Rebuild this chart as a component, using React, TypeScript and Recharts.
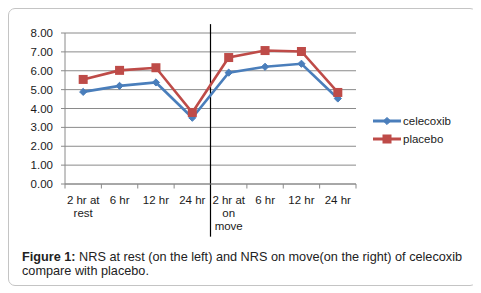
import React from 'react';
import { LineChart, Line, XAxis, YAxis, CartesianGrid, ReferenceLine, Legend } from 'recharts';

const categories = ['2 hr at\nrest', '6 hr', '12 hr', '24 hr', '2 hr at\non\nmove', '6 hr', '12 hr', '24 hr'];
const celecoxib = [4.88, 5.2, 5.38, 3.51, 5.9, 6.21, 6.37, 4.53];
const placebo = [5.54, 6.02, 6.16, 3.79, 6.7, 7.07, 7.02, 4.85];
const yTicks = [0, 1, 2, 3, 4, 5, 6, 7, 8];

const BLUE = '#4A7EBB';
const RED = '#BE4B48';
const GRID = '#8a8a8a';
const FONT = '"Liberation Sans", Arial, sans-serif';

const data = categories.map((c, i) => ({ x: i + 0.5, label: c, celecoxib: celecoxib[i], placebo: placebo[i] }));
const xTicks = data.map((d) => d.x);
const boundaries = categories.map((_, i) => i).concat([categories.length]);

const Diamond = (p: any) => {
  const { cx, cy } = p;
  if (cx == null || cy == null) return null;
  const r = 3.6;
  return <polygon points={`${cx},${cy - r} ${cx + r},${cy} ${cx},${cy + r} ${cx - r},${cy}`} fill={BLUE} stroke={BLUE} strokeWidth={1} />;
};

const Square = (p: any) => {
  const { cx, cy } = p;
  if (cx == null || cy == null) return null;
  const s = 4.5;
  return <rect x={cx - s} y={cy - s} width={2 * s} height={2 * s} fill={RED} />;
};

const XTick = (props: any) => {
  const { x, y, payload } = props;
  const idx = Math.round(payload.value - 0.5);
  const lines = (categories[idx] || '').split('\n');
  return (
    <text x={x} y={y} textAnchor="middle" fontSize={11.5} fontFamily={FONT} fill="#1a1a1a">
      {lines.map((l, i) => (
        <tspan key={i} x={x} dy={i === 0 ? 12 : 13}>
          {l}
        </tspan>
      ))}
    </text>
  );
};

const LegendContent = (props: any) => {
  const { payload } = props;
  return (
    <div style={{ fontFamily: FONT, fontSize: 11.5, color: '#1a1a1a', width: 100 }}>
      {(payload || []).map((item: any, i: number) => (
        <div key={i} style={{ display: 'flex', alignItems: 'center', height: 18.3 }}>
          <svg width={29} height={12} style={{ display: 'block' }}>
            <line x1={0} y1={6} x2={28} y2={6} stroke={item.color} strokeWidth={3} />
            {item.dataKey === 'celecoxib' ? <Diamond cx={14} cy={6} /> : <Square cx={14} cy={6} />}
          </svg>
          <span style={{ marginLeft: 1 }}>{item.value}</span>
        </div>
      ))}
    </div>
  );
};

export default function App() {
  return (
    <div style={{ position: 'relative', width: 469, height: 278 }}>
      <div
        style={{
          position: 'absolute',
          left: 0,
          top: 0,
          width: 469,
          height: 278,
          border: '1px solid #c4c4c4',
          borderRadius: 7,
          boxSizing: 'border-box',
        }}
      />
      <div style={{ position: 'absolute', left: 0, top: 0 }}>
        <LineChart width={469} height={240} data={data} margin={{ top: 25, right: 21, bottom: 14, left: 0 }}>
          <CartesianGrid horizontal vertical={false} stroke={GRID} strokeWidth={1} />
          <XAxis
            type="number"
            dataKey="x"
            domain={[0, 8]}
            ticks={xTicks}
            interval={0}
            tickLine={false}
            axisLine={{ stroke: GRID }}
            tick={<XTick />}
            height={50}
          />
          <YAxis
            type="number"
            domain={[0, 8]}
            ticks={yTicks}
            interval={0}
            width={57}
            tickSize={4}
            tickMargin={8}
            tickLine={{ stroke: GRID }}
            axisLine={{ stroke: GRID }}
            tickFormatter={(v: number) => v.toFixed(2)}
            tick={{ fontSize: 11.5, fontFamily: FONT, fill: '#1a1a1a' }}
          />
          {boundaries.map((b) => (
            <ReferenceLine
              key={b}
              segment={[
                { x: b, y: 0 },
                { x: b, y: -0.24 },
              ]}
              stroke={GRID}
              ifOverflow="visible"
            />
          ))}
          <ReferenceLine
            segment={[
              { x: 4, y: 8.47 },
              { x: 4, y: -2.79 },
            ]}
            stroke="#000"
            strokeWidth={1.2}
            ifOverflow="visible"
          />
          <Line
            dataKey="celecoxib"
            name="celecoxib"
            stroke={BLUE}
            strokeWidth={2.6}
            dot={(p: any) => <Diamond key={`d${p.index}`} {...p} />}
            activeDot={false}
            isAnimationActive={false}
          />
          <Line
            dataKey="placebo"
            name="placebo"
            stroke={RED}
            strokeWidth={2.6}
            dot={(p: any) => <Square key={`s${p.index}`} {...p} />}
            activeDot={false}
            isAnimationActive={false}
          />
          <Legend
            layout="vertical"
            align="right"
            verticalAlign="middle"
            content={<LegendContent />}
            wrapperStyle={{ position: 'absolute', left: 365, top: 104, width: 100 }}
          />
        </LineChart>
      </div>
      <div
        style={{
          position: 'absolute',
          left: 14,
          top: 242,
          width: 455,
          fontFamily: FONT,
          fontSize: 12.7,
          lineHeight: '14px',
          color: '#222',
          whiteSpace: 'nowrap',
        }}
      >
        <b>Figure 1:</b> NRS at rest (on the left) and NRS on move(on the right) of celecoxib
        <br />
        compare with placebo.
      </div>
    </div>
  );
}
